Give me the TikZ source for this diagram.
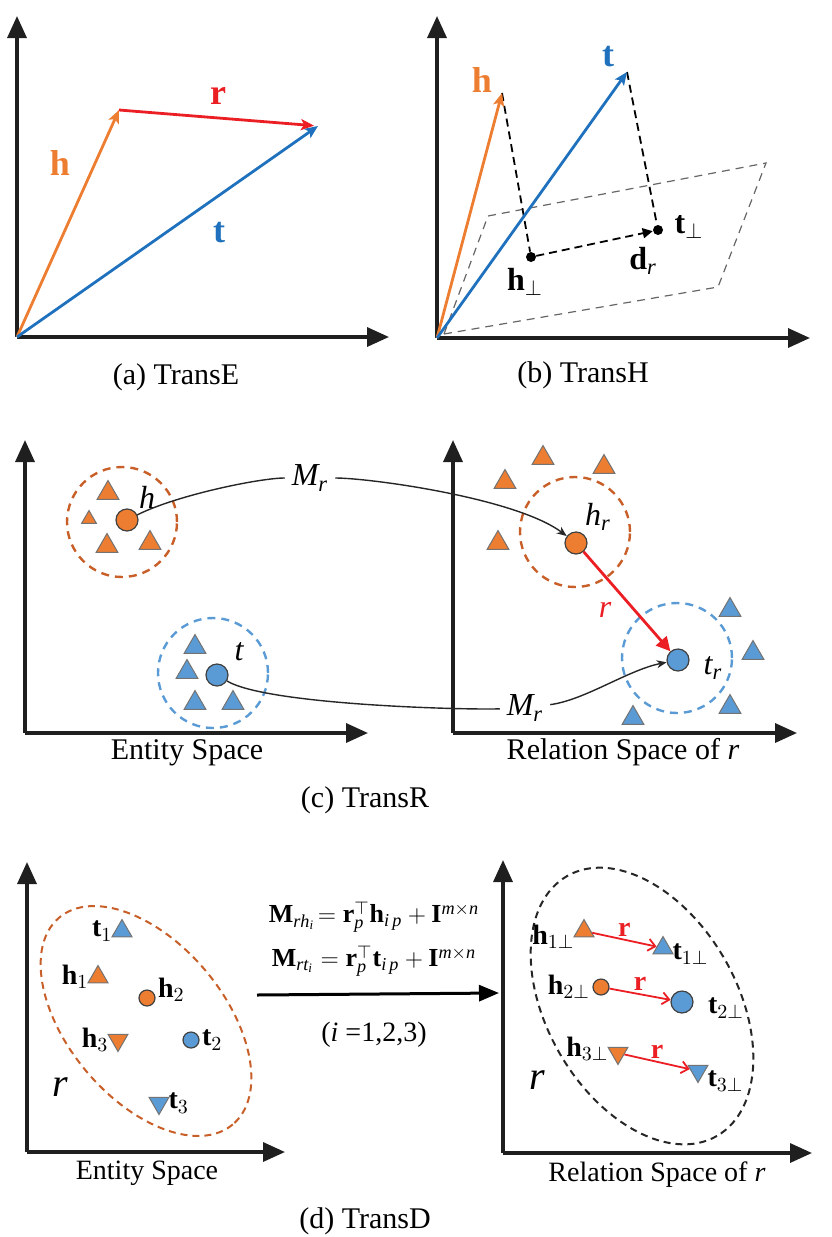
\documentclass[tikz,border=0pt]{standalone}
\usepackage{fontspec}
\setmainfont{Liberation Serif}
\usetikzlibrary{arrows.meta,positioning,shapes.geometric}

\definecolor{hcol}{RGB}{237,125,49}
\definecolor{tcol}{RGB}{31,113,189}
\definecolor{rcol}{RGB}{235,30,35}
\definecolor{tfill}{RGB}{91,155,213}
\definecolor{hring}{RGB}{200,95,40}
\newcommand{\setsz}[1]{\fontsize{#1}{#1}\selectfont}

\tikzset{
  axis/.style={line width=1.7pt, black!88, -{Triangle[length=11pt,width=9.5pt]}},
  vec/.style={line width=1.4pt, -{Stealth[length=6.5pt,width=5.5pt,inset=1.5pt]}},
  proj/.style={line width=0.9pt, dash pattern=on 4pt off 2.5pt},
  plane/.style={draw=black!60, line width=0.6pt, dash pattern=on 4pt off 3pt},
  pdot/.style={circle, fill=black, inner sep=0pt, minimum size=5pt},
  ent/.style={circle, draw=black!75, line width=0.6pt, inner sep=0pt, minimum size=11pt},
  sment/.style={ent, minimum size=8pt},
  tri/.style={regular polygon, regular polygon sides=3, draw=black!55, line width=0.5pt, inner sep=0pt, minimum size=12.5pt},
  smtri/.style={tri, minimum size=11.5pt},
  itri/.style={smtri, shape border rotate=180},
  hset/.style={circle, draw=hring, line width=1.2pt, dash pattern=on 4pt off 3pt, minimum size=55pt},
  tset/.style={hset, draw=tfill},
  mapto/.style={line width=0.7pt, black!85},
  rvec/.style={line width=0.9pt, rcol, -{Straight Barb[length=3.5pt,width=6pt]}},
  vlbl/.style={font=\setsz{18pt}\bfseries},
  plbl/.style={font=\setsz{16pt}},
  mlbl/.style={font=\setsz{16pt}},
  dlbl/.style={font=\setsz{14pt}, inner sep=1pt},
  space/.style={font=\setsz{15pt}},
  captxt/.style={font=\setsz{15pt}}
}

\begin{document}
\begin{tikzpicture}[x=0.5pt, y=-0.5pt]
\useasboundingbox (0,0) rectangle (831,1237);

% (a) TransE
\coordinate (Oa) at (17,337);
\coordinate (Ya) at (17,16);
\coordinate (Xa) at (389,337);
\coordinate (ha) at (119,110);
\coordinate (ta) at (318,126);
\draw[axis] (Oa) -- (Ya);
\draw[axis] (Oa) -- (Xa);
\draw[vec, hcol] (Oa) -- (ha);
\draw[vec, tcol] (Oa) -- (ta);
\draw[vec, rcol, shorten >=2pt] (ha) -- (ta);
\node[vlbl, hcol] (hla) at (60,163) {h};
\node[vlbl, rcol] (rla) at (218,96) {r};
\node[vlbl, tcol] (tla) at (219,233) {t};
\node[captxt] (capa) at (176,377) {(a) TransE};

% (b) TransH
\coordinate (Ob) at (437,338);
\coordinate (Yb) at (437,16);
\coordinate (Xb) at (810,338);
\coordinate (p1) at (444,334);
\coordinate (p2) at (488,216);
\coordinate (p3) at (766,163);
\coordinate (p4) at (718,287);
\coordinate (hb) at (502,93);
\coordinate (tb) at (627,72);
\node[pdot] (hp) at (531,257) {};
\node[pdot] (tp) at (658,230) {};
\draw[plane] (p1) -- (p2) -- (p3) -- (p4) -- cycle;
\draw[proj] (hb) -- (hp);
\draw[proj] (tb) -- (tp);
\draw[proj, -{Triangle[length=5pt,width=5pt]}] (hp) -- (tp);
\draw[axis] (Ob) -- (Yb);
\draw[axis] (Ob) -- (Xb);
\draw[vec, hcol] (Ob) -- (hb);
\draw[vec, tcol] (Ob) -- (tb);
\node[vlbl, hcol] (hlb) at (482,80) {h};
\node[vlbl, tcol] (tlb) at (608,57) {t};
\node[plbl] (hpl) at (525,282) {\textbf{h}$_{\perp}$};
\node[plbl] (tpl) at (689,227) {\textbf{t}$_{\perp}$};
\node[plbl] (drl) at (643,261) {\textbf{d}$_{\mathit{r}}$};
\node[captxt] (capb) at (583,375) {(b) TransH};

% (c) TransR
\coordinate (Oc) at (25,733);
\coordinate (Yc) at (25,440);
\coordinate (Xc) at (368,733);
\coordinate (Od) at (453,733);
\coordinate (Yd) at (453,440);
\coordinate (Xd) at (797,733);
\draw[axis] (Oc) -- (Yc);
\draw[axis] (Oc) -- (Xc);
\draw[axis] (Od) -- (Yd);
\draw[axis] (Od) -- (Xd);

\node[hset] (hs) at (122,522) {};
\node[tset] (ts) at (213,673) {};
\node[hset] (hrs) at (575,532) {};
\node[tset] (trs) at (677,658) {};

\foreach \x/\y [count=\i] in {108/493, 107/546, 150/543, 543/458, 604/467, 505/482, 498/543}
  \node[tri, fill=hcol] (hn\i) at (\x,\y) {};
\node[tri, fill=hcol, minimum size=8.5pt] (hn0) at (89,519) {};
\foreach \x/\y [count=\i] in {195/647, 187/672, 195/703, 233/703, 730/610, 753/653, 730/707, 633/718}
  \node[tri, fill=tfill] (tn\i) at (\x,\y) {};

\node[ent, fill=hcol] (hc) at (127,520) {};
\node[ent, fill=tfill] (tc) at (217,675) {};
\node[ent, fill=hcol] (hr) at (576,543) {};
\node[ent, fill=tfill] (tr) at (678,660) {};

\node[mlbl] (hcl) at (147,497) {$\mathit{h}$};
\node[mlbl] (tcl) at (239,652) {$\mathit{t}$};
\node[mlbl] (hrl) at (598,517) {$\mathit{h}_{\mathit{r}}$};
\node[mlbl] (trl) at (713,668) {$\mathit{t}_{\mathit{r}}$};
\node[mlbl, rcol] (rcl) at (605,610) {$\mathit{r}$};
\node[mlbl] (mr1) at (310,478) {$\mathit{M}_{\mathit{r}}$};
\node[mlbl] (mr2) at (525,708) {$\mathit{M}_{\mathit{r}}$};

\draw[mapto] (hc) .. controls +(50,-25) and +(-50,0) .. (mr1);
\draw[mapto, -{Stealth[length=5pt,width=4pt]}] (mr1) .. controls +(60,0) and +(-60,-45) .. (hr);
\draw[mapto] (tc) .. controls +(50,30) and +(-60,2) .. (mr2);
\draw[mapto, -{Stealth[length=5pt,width=4pt]}] (mr2) .. controls +(60,-8) and +(-50,10) .. (tr);
\draw[line width=1.4pt, rcol, -{Triangle[length=7pt,width=7pt]}] (hr) -- (tr);

\node[space] (esc) at (187,753) {Entity Space};
\node[space] (rsc) at (623,752) {Relation Space of \textit{r}};
\node[captxt] (capc) at (365,800) {(c) TransR};

% (d) TransD
\coordinate (Oe) at (27,1152);
\coordinate (Ye) at (27,862);
\coordinate (Xe) at (285,1152);
\coordinate (Of) at (503,1153);
\coordinate (Yf) at (503,860);
\coordinate (Xf) at (812,1153);
\draw[axis] (Oe) -- (Ye);
\draw[axis] (Oe) -- (Xe);
\draw[axis] (Of) -- (Yf);
\draw[axis] (Of) -- (Xf);

\draw[hring, line width=1pt, dash pattern=on 3.5pt off 2.5pt, rotate around={-50:(146,1021)}]
  (146,1021) ellipse [x radius=135, y radius=78];
\draw[black!85, line width=1pt, dash pattern=on 3.5pt off 2.5pt, rotate around={-60:(642,1006)}]
  (642,1006) ellipse [x radius=150, y radius=95];

\node[smtri, fill=tfill] (t1) at (122,931) {};
\node[smtri, fill=hcol] (h1) at (98,977) {};
\node[sment, fill=hcol] (h2) at (147,998) {};
\node[itri, fill=hcol] (h3) at (118,1040) {};
\node[sment, fill=tfill] (t2) at (191,1040) {};
\node[itri, fill=tfill] (t3) at (159,1103) {};
\node[dlbl, left=0pt of t1] (t1l) {\textbf{t}$_1$};
\node[dlbl, left=0pt of h1] (h1l) {\textbf{h}$_1$};
\node[dlbl, right=0pt of h2, yshift=4pt] (h2l) {\textbf{h}$_2$};
\node[dlbl, left=0pt of h3] (h3l) {\textbf{h}$_3$};
\node[dlbl, right=0pt of t2] (t2l) {\textbf{t}$_2$};
\node[dlbl, right=0pt of t3] (t3l) {\textbf{t}$_3$};
\node[font=\setsz{20pt}] (rle) at (60,1087) {$\mathit{r}$};

\node[dlbl, font=\setsz{13pt}] (eq1) at (374,917)
  {$\mathbf{M}_{\mathit{rh_i}}\!= \mathbf{r}_{\mathit{p}}^{\top}\mathbf{h}_{\mathit{i\,p}} + \mathbf{I}^{\mathit{m\times n}}$};
\node[dlbl, font=\setsz{13pt}] (eq2) at (374,961)
  {$\mathbf{M}_{\mathit{rt_i}} = \mathbf{r}_{\mathit{p}}^{\top}\mathbf{t}_{\mathit{i\,p}} + \mathbf{I}^{\mathit{m\times n}}$};
\coordinate (ma) at (257,995);
\coordinate (mb) at (499,993);
\draw[line width=1.5pt, -{Triangle[length=10pt,width=8pt]}] (ma) -- (mb);
\node[dlbl] (idx) at (374,1035) {($\mathit{i}$ =1,2,3)};

\node[smtri, fill=hcol] (h1p) at (584,931) {};
\node[smtri, fill=tfill] (t1p) at (663,948) {};
\node[sment, fill=hcol] (h2p) at (601,987) {};
\node[ent, fill=tfill] (t2p) at (682,1002) {};
\node[itri, fill=hcol] (h3p) at (618,1053) {};
\node[itri, fill=tfill] (t3p) at (698,1071) {};
\draw[rvec] (h1p) -- node[above=-2pt, font=\setsz{14pt}\bfseries] (r1l) {r} (t1p);
\draw[rvec] (h2p) -- node[above=-2pt, font=\setsz{14pt}\bfseries] (r2l) {r} (t2p);
\draw[rvec] (h3p) -- node[above=-2pt, font=\setsz{14pt}\bfseries] (r3l) {r} (t3p);
\node[dlbl, left=0pt of h1p, yshift=-3pt] (h1pl) {\textbf{h}$_{1\perp}$};
\node[dlbl, right=0pt of t1p, yshift=-3pt] (t1pl) {\textbf{t}$_{1\perp}$};
\node[dlbl, left=0pt of h2p] (h2pl) {\textbf{h}$_{2\perp}$};
\node[dlbl, right=6pt of t2p, yshift=-3pt] (t2pl) {\textbf{t}$_{2\perp}$};
\node[dlbl, left=0pt of h3p, yshift=2pt] (h3pl) {\textbf{h}$_{3\perp}$};
\node[dlbl, right=0pt of t3p, yshift=-5pt] (t3pl) {\textbf{t}$_{3\perp}$};
\node[font=\setsz{20pt}] (rlf) at (537,1080) {$\mathit{r}$};

\node[space, font=\setsz{14pt}] (esd) at (147,1173) {Entity Space};
\node[space, font=\setsz{14pt}] (rsd) at (657,1175) {Relation Space of \textit{r}};
\node[captxt] (capd) at (365,1221) {(d) TransD};

\end{tikzpicture}
\end{document}
